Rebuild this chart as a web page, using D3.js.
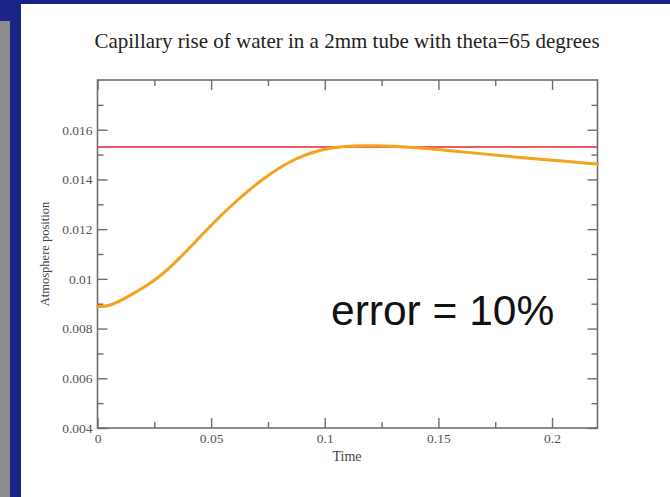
<!DOCTYPE html>
<html>
<head>
<meta charset="utf-8">
<script src="https://cdn.jsdelivr.net/npm/d3@7"></script>
<style>
  html, body { margin: 0; padding: 0; background: #fff; }
  svg { display: block; }
</style>
</head>
<body>
<div id="chart"></div>
<script>
// time (s) and meniscus position
const times = [0, 0.005, 0.0136, 0.0209, 0.0283, 0.0356, 0.043, 0.0504, 0.0577, 0.065,
  0.0724, 0.0797, 0.0871, 0.0944, 0.1018, 0.1100, 0.1193, 0.1392, 0.154, 0.1687,
  0.1833, 0.198, 0.2186, 0.22];
const positions = [0.00889, 0.00888, 0.00929, 0.00968, 0.01015, 0.01078, 0.01148, 0.0122, 0.01285, 0.01345,
  0.01399, 0.01446, 0.01483, 0.01509, 0.01526, 0.01534, 0.01537, 0.01529, 0.01517, 0.01504,
  0.0149, 0.01479, 0.01463, 0.01462];
const targetValue = 0.0153;

const xMajor = [0, 0.05, 0.1, 0.15, 0.2];
const xMinor = [0.025, 0.075, 0.125, 0.175];
const yMajor = [0.004, 0.006, 0.008, 0.01, 0.012, 0.014, 0.016];
const yMinor = [0.005, 0.007, 0.009, 0.011, 0.013, 0.015, 0.017];
const xLabels = ["0", "0.05", "0.1", "0.15", "0.2"];
const yLabels = ["0.004", "0.006", "0.008", "0.01", "0.012", "0.014", "0.016"];

const W = 670, H = 497;
const plot = { left: 97.5, right: 597.5, top: 80, bottom: 428 };

const svg = d3.select("#chart").append("svg")
  .attr("width", W)
  .attr("height", H);

// slide frame
svg.append("rect").attr("x", 0).attr("y", 0).attr("width", W).attr("height", H).attr("fill", "#1b2489");
svg.append("rect").attr("x", 21).attr("y", 4).attr("width", W - 21).attr("height", H - 4).attr("fill", "#fff");
svg.append("rect").attr("x", 0).attr("y", 21).attr("width", 10).attr("height", H - 21).attr("fill", "#8c8c8c");

const x = d3.scaleLinear().domain([0, 0.22]).range([plot.left, plot.right]);
const y = d3.scaleLinear().domain([0.004, 0.018]).range([plot.bottom, plot.top]);

const axisColor = "#6e6e6e";
const serif = "'Liberation Serif', 'Times New Roman', serif";

function styleAxis(g) {
  g.select(".domain").remove();
  g.selectAll("line").attr("stroke", axisColor).attr("stroke-width", 1.4);
  g.selectAll("text").attr("fill", "#555").attr("font-family", serif).attr("font-size", 13.5);
}

const xFmt = (d, i) => xLabels[i];
const yFmt = (d, i) => yLabels[i];

// bottom
svg.append("g").attr("transform", `translate(0,${plot.bottom})`)
  .call(d3.axisBottom(x).tickValues(xMajor).tickFormat(xFmt).tickSize(-10).tickSizeOuter(0).tickPadding(5))
  .call(styleAxis);
svg.append("g").attr("transform", `translate(0,${plot.bottom})`)
  .call(d3.axisBottom(x).tickValues(xMinor).tickFormat("").tickSize(-6).tickSizeOuter(0))
  .call(styleAxis);
// top
svg.append("g").attr("transform", `translate(0,${plot.top})`)
  .call(d3.axisTop(x).tickValues(xMajor).tickFormat("").tickSize(-10).tickSizeOuter(0))
  .call(styleAxis);
svg.append("g").attr("transform", `translate(0,${plot.top})`)
  .call(d3.axisTop(x).tickValues(xMinor).tickFormat("").tickSize(-6).tickSizeOuter(0))
  .call(styleAxis);
// left
svg.append("g").attr("transform", `translate(${plot.left},0)`)
  .call(d3.axisLeft(y).tickValues(yMajor).tickFormat(yFmt).tickSize(-10).tickSizeOuter(0).tickPadding(5))
  .call(styleAxis);
svg.append("g").attr("transform", `translate(${plot.left},0)`)
  .call(d3.axisLeft(y).tickValues(yMinor).tickFormat("").tickSize(-6).tickSizeOuter(0))
  .call(styleAxis);
// right
svg.append("g").attr("transform", `translate(${plot.right},0)`)
  .call(d3.axisRight(y).tickValues(yMajor).tickFormat("").tickSize(-10).tickSizeOuter(0))
  .call(styleAxis);
svg.append("g").attr("transform", `translate(${plot.right},0)`)
  .call(d3.axisRight(y).tickValues(yMinor).tickFormat("").tickSize(-6).tickSizeOuter(0))
  .call(styleAxis);

// frame
svg.append("rect")
  .attr("x", plot.left).attr("y", plot.top)
  .attr("width", plot.right - plot.left).attr("height", plot.bottom - plot.top)
  .attr("fill", "none").attr("stroke", axisColor).attr("stroke-width", 1.6);

// target line
svg.append("line")
  .attr("x1", x(0)).attr("x2", x(0.22))
  .attr("y1", y(targetValue)).attr("y2", y(targetValue))
  .attr("stroke", "#e8262c").attr("stroke-width", 1.5);

// simulated rise
const series = times.map((t, i) => ({ t, v: positions[i] }));
const line = d3.line()
  .x(d => x(d.t))
  .y(d => y(d.v))
  .curve(d3.curveBasis);

svg.append("path")
  .datum(series)
  .attr("fill", "none")
  .attr("stroke", "#f5a21c")
  .attr("stroke-width", 3)
  .attr("stroke-linecap", "round")
  .attr("d", line);

// texts
svg.append("text")
  .attr("x", 347).attr("y", 48)
  .attr("text-anchor", "middle")
  .attr("font-family", serif).attr("font-size", 21).attr("fill", "#222")
  .text("Capillary rise of water in a 2mm tube with theta=65 degrees");

svg.append("text")
  .attr("x", 347).attr("y", 461)
  .attr("text-anchor", "middle")
  .attr("font-family", serif).attr("font-size", 14).attr("fill", "#444")
  .text("Time");

svg.append("text")
  .attr("transform", `translate(49,${(plot.top + plot.bottom) / 2}) rotate(-90)`)
  .attr("text-anchor", "middle")
  .attr("font-family", serif).attr("font-size", 12.5).attr("fill", "#444")
  .text("Atmosphere position");

svg.append("text")
  .attr("x", 331).attr("y", 325)
  .attr("font-family", "'Liberation Sans', Arial, sans-serif").attr("font-size", 42.5).attr("fill", "#111")
  .text("error = 10%");
</script>
</body>
</html>
